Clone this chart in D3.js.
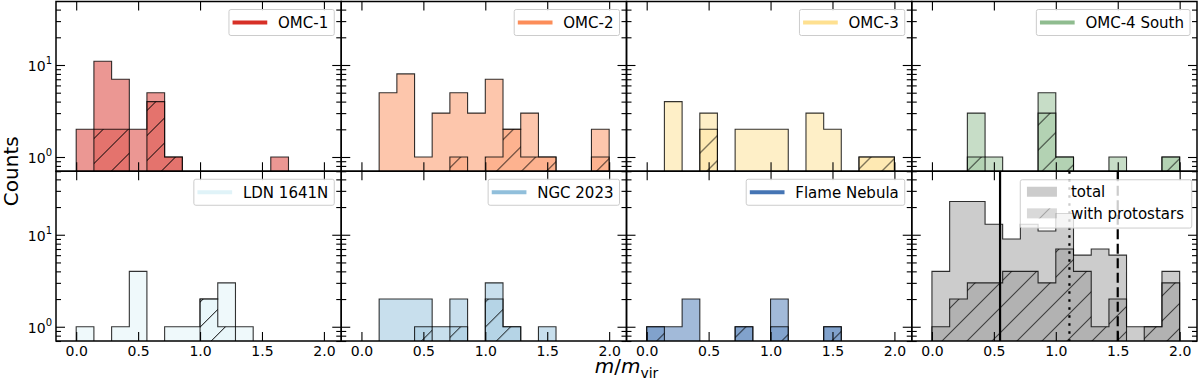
<!DOCTYPE html>
<html>
<head>
<meta charset="utf-8">
<script src="https://cdn.jsdelivr.net/npm/d3@7"></script>
<style>
    body { margin: 0; background: #fff; }
    svg { font-family: "DejaVu Sans", sans-serif; }
</style>
</head>
<body>
<svg width="1200" height="384"></svg>
<script>
// bins of m/m_vir, 14 bins from 0 to 2
const binEdges = [0, 0.143, 0.286, 0.429, 0.571, 0.714, 0.857, 1.0, 1.143, 1.286, 1.429, 1.571, 1.714, 1.857, 2.0];

const regionNames = ["OMC-1", "OMC-2", "OMC-3", "OMC-4 South", "LDN 1641N", "NGC 2023", "Flame Nebula"];
const regionColors = ["#d73027", "#fc8d59", "#fee090", "#8fbc8f", "#e0f3f8", "#91bfdb", "#4575b4"];

const omc1Total = [2, 11, 7, 2, 5, 1, 0, 0, 0, 0, 0, 1, 0, 0];
const omc1Proto = [0, 2, 2, 0, 4, 1, 0, 0, 0, 0, 0, 0, 0, 0];
const omc2Total = [0, 5, 8, 1, 3, 5, 3, 7, 2, 3, 1, 0, 0, 2];
const omc2Proto = [0, 0, 0, 0, 0, 1, 0, 1, 2, 1, 1, 0, 0, 1];
const omc3Total = [0, 4, 0, 3, 0, 2, 2, 2, 0, 3, 2, 0, 1, 1];
const omc3Proto = [0, 0, 0, 2, 0, 0, 0, 0, 0, 0, 0, 0, 1, 1];
const omc4Total = [0, 0, 3, 1, 0, 0, 5, 1, 0, 0, 1, 0, 0, 1];
const omc4Proto = [0, 0, 1, 0, 0, 0, 3, 1, 0, 0, 0, 0, 0, 1];
const ldnTotal = [1, 0, 1, 4, 0, 1, 1, 2, 3, 1, 0, 0, 0, 0];
const ldnProto = [0, 0, 0, 0, 0, 0, 0, 2, 1, 0, 0, 0, 0, 0];
const ngcTotal = [0, 2, 2, 2, 1, 2, 0, 3, 1, 0, 1, 0, 0, 0];
const ngcProto = [0, 0, 0, 1, 0, 1, 0, 2, 1, 0, 0, 0, 0, 0];
const flameTotal = [1, 1, 2, 0, 0, 1, 0, 2, 0, 0, 1, 0, 0, 0];
const flameProto = [1, 0, 0, 0, 0, 1, 0, 1, 0, 0, 1, 0, 0, 0];
const allTotal = [4, 23, 23, 13, 9, 13, 11, 17, 6, 7, 6, 1, 1, 4];
const allProto = [1, 2, 3, 3, 4, 4, 3, 7, 4, 1, 2, 0, 1, 3];

// reference values drawn in the last panel
const refLines = [0.55, 1.11, 1.5];

const xTicks = [0, 0.5, 1.0, 1.5, 2.0];
const yMajor = [1, 10];
const yMajorExp = ["0", "1"];
const yMinor = [0.7, 0.8, 0.9, 2, 3, 4, 5, 6, 7, 8, 9, 20, 30, 40];

const totals = [omc1Total, omc2Total, omc3Total, omc4Total, ldnTotal, ngcTotal, flameTotal, allTotal];
const protos = [omc1Proto, omc2Proto, omc3Proto, omc4Proto, ldnProto, ngcProto, flameProto, allProto];

const svg = d3.select("svg");
const mLeft = 56, mRight = 1197, mTop = 1.5, mBottom = 341;
const pw = (mRight - mLeft) / 4, ph = (mBottom - mTop) / 2;

const x = d3.scaleLinear().domain([-0.163, 2.14]).range([0, pw]);
const y = d3.scaleLog().domain([0.7, 49]).range([ph, 0]);

const defs = svg.append("defs");
function addHatch(id, color) {
    const p = defs.append("pattern")
        .attr("id", id)
        .attr("patternUnits", "userSpaceOnUse")
        .attr("width", 25)
        .attr("height", 25);
    p.append("path")
        .attr("d", "M-3,3L3,-3M0,25L25,0M22,28L28,22")
        .attr("stroke", color)
        .attr("stroke-width", 1);
}
addHatch("hatch", "#000");
addHatch("hatchLegend", "#888");

const base = ph + 10;
const area = d3.area()
    .curve(d3.curveStepAfter)
    .x(d => x(d.edge))
    .y0(base)
    .y1(d => d.count > 0 ? y(d.count) : base);

function stepData(counts) {
    return binEdges.map((e, i) => ({ edge: e, count: counts[Math.min(i, counts.length - 1)] }));
}

function drawPanel(k) {
    const col = k % 4, row = Math.floor(k / 4);
    const g = svg.append("g")
        .attr("transform", `translate(${mLeft + col * pw},${mTop + row * ph})`);
    const color = k < 7 ? regionColors[k] : "#808080";

    g.append("clipPath").attr("id", "clip" + k)
        .append("rect").attr("width", pw).attr("height", ph);
    const plot = g.append("g").attr("clip-path", `url(#clip${k})`);

    plot.append("path")
        .attr("d", area(stepData(totals[k])))
        .attr("fill", color)
        .attr("fill-opacity", k < 7 ? 0.5 : 0.4)
        .attr("stroke", "#000")
        .attr("stroke-opacity", 0.8)
        .attr("stroke-width", 1.1);

    const pd = area(stepData(protos[k]));
    plot.append("path")
        .attr("d", pd)
        .attr("fill", color)
        .attr("fill-opacity", 0.35);
    plot.append("path")
        .attr("d", pd)
        .attr("fill", "url(#hatch)")
        .attr("stroke", "#000")
        .attr("stroke-opacity", 0.8)
        .attr("stroke-width", 1.1);

    if (k === 7) {
        const dashes = [null, "2.5,5.5", "10,4.5"];
        refLines.forEach((v, i) => {
            plot.append("line")
                .attr("x1", x(v)).attr("x2", x(v))
                .attr("y1", 0).attr("y2", ph)
                .attr("stroke", "#000")
                .attr("stroke-width", 2.2)
                .attr("stroke-dasharray", dashes[i]);
        });
    }

    // ticks, all pointing inwards
    const showX = row === 1;
    g.append("g").attr("transform", `translate(0,${ph})`)
        .call(d3.axisBottom(x).tickValues(xTicks).tickSize(-9).tickPadding(5)
            .tickFormat(showX ? d3.format(".1f") : ""));
    g.append("g")
        .call(d3.axisTop(x).tickValues(xTicks).tickSize(-9).tickFormat(""));
    g.append("g")
        .call(d3.axisLeft(y).tickValues(yMajor).tickSize(-9).tickFormat(""));
    g.append("g")
        .call(d3.axisLeft(y).tickValues(yMinor).tickSize(-5).tickFormat(""));
    g.append("g").attr("transform", `translate(${pw},0)`)
        .call(d3.axisRight(y).tickValues(yMajor).tickSize(-9).tickFormat(""));
    g.append("g").attr("transform", `translate(${pw},0)`)
        .call(d3.axisRight(y).tickValues(yMinor).tickSize(-5).tickFormat(""));
    g.selectAll(".domain").remove();
    g.selectAll(".tick line").attr("stroke", "#000").attr("stroke-width", 1.1);
    g.selectAll(".tick text").filter(function() { return this.textContent === ""; }).remove();
    g.selectAll(".tick text")
        .attr("font-family", "DejaVu Sans")
        .attr("font-size", 14)
        .attr("fill", "#000");

    if (col === 0) {
        yMajor.forEach((v, i) => {
            const t = g.append("text")
                .attr("x", -4)
                .attr("y", y(v) + 6)
                .attr("text-anchor", "end")
                .attr("font-size", 14);
            t.append("tspan").text("10");
            t.append("tspan").attr("dy", -6.5).attr("font-size", 10).text(yMajorExp[i]);
        });
    }

    g.append("rect")
        .attr("width", pw).attr("height", ph)
        .attr("fill", "none")
        .attr("stroke", "#000")
        .attr("stroke-width", 1.5);

    if (k < 7) drawLineLegend(g, regionNames[k], color);
    else drawPatchLegend(g);
}

function drawLineLegend(g, label, color) {
    const lg = g.append("g");
    const box = lg.append("rect");
    const txt = lg.append("text")
        .attr("font-size", 15)
        .attr("dominant-baseline", "central")
        .text(label);
    const tw = txt.node().getComputedTextLength();
    const bw = 3.6 + 34.7 + 10.8 + tw + 6;
    const bx = pw - 7 - bw, by = 8, bh = 26;
    box.attr("x", bx).attr("y", by).attr("width", bw).attr("height", bh)
        .attr("rx", 2)
        .attr("fill", "#fff").attr("fill-opacity", 0.8)
        .attr("stroke", "#ccc").attr("stroke-width", 1);
    lg.append("line")
        .attr("x1", bx + 3.6).attr("x2", bx + 38.3)
        .attr("y1", by + 13).attr("y2", by + 13)
        .attr("stroke", color).attr("stroke-width", 4);
    txt.attr("x", bx + 49.1).attr("y", by + 13.5);
}

function drawPatchLegend(g) {
    const labels = ["total", "with protostars"];
    const lg = g.append("g");
    const bx = 108.5, by = 8.5, bw = 171.5, bh = 48.3;
    lg.append("rect")
        .attr("x", bx).attr("y", by).attr("width", bw).attr("height", bh)
        .attr("rx", 2)
        .attr("fill", "#fff").attr("fill-opacity", 0.8)
        .attr("stroke", "#ccc").attr("stroke-width", 1);
    labels.forEach((lab, i) => {
        const cy = by + 12 + i * 21.6;
        lg.append("rect")
            .attr("x", bx + 6.7).attr("y", cy - 5).attr("width", 30).attr("height", 10)
            .attr("fill", "#808080").attr("fill-opacity", i === 0 ? 0.4 : 0.3);
        if (i === 1) {
            lg.append("rect")
                .attr("x", bx + 6.7).attr("y", cy - 5).attr("width", 30).attr("height", 10)
                .attr("fill", "url(#hatchLegend)");
        }
        lg.append("text")
            .attr("x", bx + 50.7).attr("y", cy + 0.5)
            .attr("font-size", 15)
            .attr("dominant-baseline", "central")
            .text(lab);
    });
}

for (let k = 0; k < 8; k++) drawPanel(k);

svg.append("text")
    .attr("transform", `translate(18,${(mTop + mBottom) / 2}) rotate(-90)`)
    .attr("text-anchor", "middle")
    .attr("font-size", 20)
    .text("Counts");

const xl = svg.append("text")
    .attr("x", (mLeft + mRight) / 2)
    .attr("y", 373)
    .attr("text-anchor", "middle")
    .attr("font-size", 20);
xl.append("tspan").attr("font-style", "italic").text("m");
xl.append("tspan").text("/");
xl.append("tspan").attr("font-style", "italic").text("m");
xl.append("tspan").attr("dy", 5).attr("font-size", 14).text("vir");
</script>
</body>
</html>
